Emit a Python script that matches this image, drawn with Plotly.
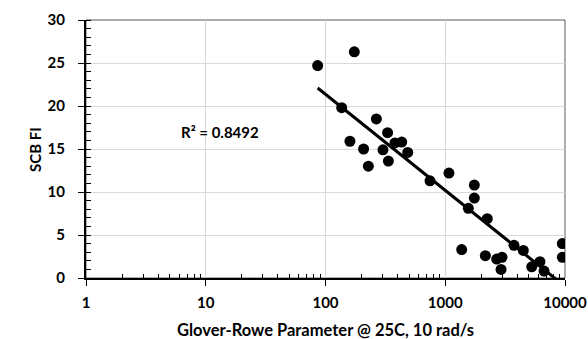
import numpy as np
import plotly.graph_objects as go

gr_param = [86, 174, 136.5, 266, 330, 160, 380, 433, 208, 302, 486, 228, 335, 746,
            1074, 1749, 1749, 1559, 2244, 1372, 2162, 2690, 2977, 2923, 3752, 4487,
            5272, 6180, 6685, 9500, 9500]
scb_fi = [24.7, 26.3, 19.8, 18.5, 16.9, 15.9, 15.7, 15.8, 15.0, 14.9, 14.6, 13.0, 13.6, 11.3,
          12.2, 10.8, 9.3, 8.1, 6.9, 3.3, 2.6, 2.2, 2.4, 1.0, 3.8, 3.2,
          1.3, 1.9, 0.8, 4.0, 2.4]
r2_label = "R² = 0.8492"
x_title = "Glover-Rowe Parameter @ 25C, 10 rad/s"
y_title = "SCB FI"
y_ticks = [0, 5, 10, 15, 20, 25, 30]
x_ticks = [1, 10, 100, 1000, 10000]
x_minor = [m * d for d in [1, 10, 100, 1000] for m in range(2, 10)]

# logarithmic trendline y = a + b*ln(x)
lx = np.log(np.array(gr_param, dtype=float))
b, a = np.polyfit(lx, np.array(scb_fi), 1)
xt = np.logspace(np.log10(min(gr_param)), np.log10(max(gr_param)), 200)
yt = a + b * np.log(xt)

FONT = "Lato"
fig = go.Figure()
fig.add_trace(go.Scatter(x=xt, y=yt, mode="lines",
                         line=dict(color="black", width=3), hoverinfo="skip",
                         showlegend=False))
fig.add_trace(go.Scatter(x=gr_param, y=scb_fi, mode="markers",
                         marker=dict(color="black", size=11), showlegend=False))

fig.update_layout(
    width=588, height=339,
    margin=dict(l=86, r=23, t=20, b=61),
    paper_bgcolor="white", plot_bgcolor="white",
    font=dict(family=FONT, color="black"),
    xaxis=dict(type="log", range=[0, 4], tickvals=x_ticks,
               ticktext=[str(v) for v in x_ticks], automargin=False,
               showgrid=True, gridcolor="#d9d9d9", gridwidth=1,
               showline=True, linecolor="black", linewidth=2,
               ticks="outside", ticklen=6, tickcolor="black", tickwidth=1,
               ticklabelstandoff=4,
               tickfont=dict(size=15, family=FONT, color="black", weight="bold"),
               minor=dict(ticks="inside", ticklen=4, tickcolor="black",
                          showgrid=False, tickmode="array", tickvals=x_minor),
               zeroline=False),
    yaxis=dict(range=[0, 30], tickvals=y_ticks, automargin=False,
               showgrid=True, gridcolor="#d9d9d9", gridwidth=1,
               showline=True, linecolor="black", linewidth=2,
               ticks="outside", ticklen=6, tickcolor="black", tickwidth=1,
               ticklabelstandoff=10,
               tickfont=dict(size=15, family=FONT, color="black", weight="bold"),
               minor=dict(ticks="inside", ticklen=5, tickcolor="black",
                          dtick=1, showgrid=False),
               zeroline=False),
    shapes=[dict(type="rect", xref="paper", yref="paper", x0=0, x1=1, y0=0, y1=1,
                 line=dict(color="#595959", width=1), layer="below")],
    annotations=[
        dict(text=r2_label, x=np.log10(13.2), y=17.0, xref="x", yref="y",
             showarrow=False,
             font=dict(size=15, family=FONT, color="black", weight="bold")),
        dict(text=x_title, x=0.5, y=-0.2016, xref="paper", yref="paper",
             showarrow=False, xanchor="center", yanchor="middle",
             font=dict(size=16.5, family=FONT, color="black", weight="bold")),
        dict(text=y_title, x=-0.1065, y=0.5, xref="paper", yref="paper",
             showarrow=False, xanchor="center", yanchor="middle", textangle=-90,
             font=dict(size=15, family=FONT, color="black", weight="bold")),
    ],
)

fig.write_html("out.html")
